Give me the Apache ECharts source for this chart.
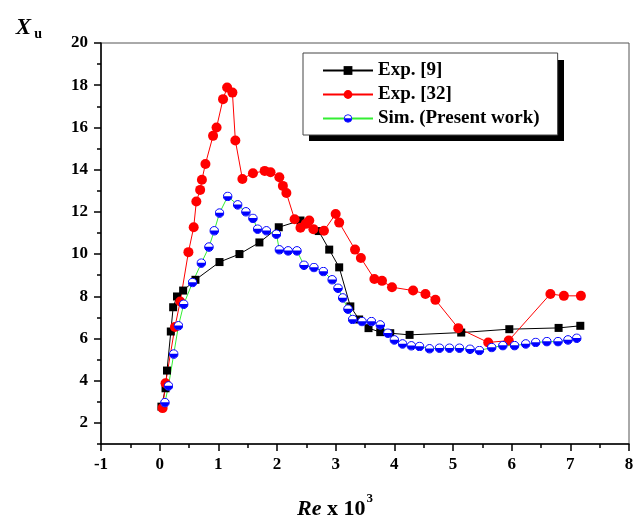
<!DOCTYPE html>
<html>
<head>
<meta charset="utf-8">
<script src="https://cdn.jsdelivr.net/npm/echarts@6/dist/echarts.min.js"></script>
<style>
  html, body { margin: 0; padding: 0; background: #fff; }
  #chart { width: 640px; height: 528px; }
</style>
</head>
<body>
<div id="chart"></div>
<script>
// Exp. [9]
const exp9X = [0.03, 0.10, 0.125, 0.19, 0.23, 0.295, 0.40, 0.61, 1.02, 1.36, 1.70, 2.03, 2.40, 2.71, 2.89, 3.06, 3.25, 3.40, 3.56, 3.76, 3.93, 4.26, 5.14, 5.96, 6.80, 7.17]
const exp9Y = [2.77, 3.64, 4.48, 6.33, 7.48, 7.99, 8.27, 8.78, 9.62, 10.0, 10.55, 11.27, 11.59, 11.09, 10.21, 9.37, 7.52, 6.90, 6.49, 6.30, 6.25, 6.17, 6.28, 6.44, 6.50, 6.60]

// Exp. [32]
const exp32X = [0.05, 0.10, 0.26, 0.35, 0.49, 0.58, 0.625, 0.69, 0.72, 0.78, 0.91, 0.97, 1.08, 1.15, 1.24, 1.29, 1.41, 1.59, 1.79, 1.89, 2.04, 2.10, 2.16, 2.30, 2.40, 2.49, 2.55, 2.62, 2.80, 3.00, 3.06, 3.33, 3.43, 3.66, 3.79, 3.96, 4.32, 4.53, 4.70, 5.09, 5.60, 5.95, 6.66, 6.89, 7.18]
const exp32Y = [2.70, 3.88, 6.54, 7.75, 10.09, 11.27, 12.49, 13.04, 13.52, 14.27, 15.60, 16.0, 17.34, 17.89, 17.65, 15.38, 13.56, 13.83, 13.94, 13.88, 13.64, 13.23, 12.89, 11.65, 11.25, 11.43, 11.59, 11.18, 11.10, 11.90, 11.49, 10.21, 9.81, 8.82, 8.73, 8.43, 8.27, 8.11, 7.83, 6.49, 5.81, 5.90, 8.11, 8.02, 8.02]

// Sim. (Present work)
const simX = [0.09, 0.15, 0.24, 0.32, 0.41, 0.56, 0.71, 0.84, 0.93, 1.02, 1.16, 1.33, 1.47, 1.59, 1.67, 1.82, 1.99, 2.04, 2.19, 2.34, 2.46, 2.63, 2.79, 2.94, 3.04, 3.12, 3.21, 3.29, 3.45, 3.61, 3.76, 3.89, 4.00, 4.14, 4.29, 4.43, 4.60, 4.77, 4.94, 5.11, 5.29, 5.45, 5.66, 5.85, 6.05, 6.24, 6.41, 6.60, 6.79, 6.96, 7.11]
const simY = [2.96, 3.75, 5.26, 6.60, 7.62, 8.65, 9.57, 10.33, 11.10, 11.94, 12.73, 12.33, 12.0, 11.69, 11.18, 11.10, 10.94, 10.20, 10.15, 10.15, 9.47, 9.36, 9.17, 8.78, 8.38, 7.92, 7.39, 6.90, 6.80, 6.80, 6.64, 6.25, 5.93, 5.74, 5.65, 5.62, 5.51, 5.54, 5.54, 5.54, 5.49, 5.43, 5.57, 5.66, 5.66, 5.74, 5.81, 5.85, 5.85, 5.93, 6.01]

const yMajorTicks = [2, 4, 6, 8, 10, 12, 14, 16, 18, 20]
const yMinorTicks = [1, 3, 5, 7, 9, 11, 13, 15, 17, 19]

const serif = '"Liberation Serif", "Times New Roman", serif'

function zip(xs, ys) {
    return xs.map((x, i) => [x, ys[i]])
}

// half filled circle (white top, blue bottom)
const halfSvg =
    "<svg xmlns='http://www.w3.org/2000/svg' width='20' height='20' viewBox='0 0 20 20'>" +
    "<circle cx='10' cy='10' r='8.6' fill='white' stroke='#0000ff' stroke-width='2'/>" +
    "<path d='M1.4 9.4 A8.6 8.6 0 0 0 18.6 9.4 Z' fill='#0000ff'/></svg>"
const halfSymbol = 'image://data:image/svg+xml;charset=utf-8,' + encodeURIComponent(halfSvg)

const chart = echarts.init(document.getElementById('chart'))

const option = {
    animation: false,
    textStyle: { fontFamily: serif },
    grid: {
        left: 101,
        right: 11,
        top: 43,
        bottom: 84,
        show: true,
        borderColor: '#555',
        borderWidth: 1
    },
    // drop shadow behind the legend box
    graphic: [
        {
            type: 'rect',
            left: 309,
            top: 60,
            z: 3,
            shape: { width: 255, height: 81 },
            style: { fill: '#000' }
        }
    ],
    legend: {
        orient: 'vertical',
        left: 303,
        top: 53,
        z: 5,
        padding: [8, 18, 7, 19],
        itemGap: 5,
        itemWidth: 50,
        itemHeight: 11,
        backgroundColor: '#fff',
        borderColor: '#444',
        borderWidth: 1,
        textStyle: {
            fontFamily: serif,
            fontWeight: 'bold',
            fontSize: 19,
            color: '#000'
        },
        data: ['Exp. [9]', 'Exp. [32]', 'Sim. (Present work)']
    },
    xAxis: {
        type: 'value',
        min: -1,
        max: 8,
        interval: 1,
        name: '{re|Re}{t| x 10}{s|3}',
        nameLocation: 'middle',
        nameGap: 48,
        nameTextStyle: {
            padding: [0, 60, 0, 0],
            rich: {
                re: { fontFamily: serif, fontSize: 22, fontStyle: 'italic', fontWeight: 'bold', color: '#000', lineHeight: 28, verticalAlign: 'bottom' },
                t: { fontFamily: serif, fontSize: 22, fontWeight: 'bold', color: '#000', lineHeight: 28, verticalAlign: 'bottom' },
                s: { fontFamily: serif, fontSize: 13, fontWeight: 'bold', color: '#000', lineHeight: 13, verticalAlign: 'top', padding: [0, 0, 0, 1] }
            }
        },
        axisLine: { onZero: false, lineStyle: { color: '#000', width: 1.5 } },
        axisTick: { length: 7, lineStyle: { color: '#000', width: 1.5 } },
        minorTick: { show: true, splitNumber: 2, length: 4, lineStyle: { color: '#000', width: 1.5 } },
        axisLabel: { margin: 12, color: '#000', fontFamily: serif, fontWeight: 'bold', fontSize: 17 },
        splitLine: { show: false }
    },
    yAxis: [
        {
            type: 'value',
            min: 1,
            max: 20,
            interval: 1,
            name: '{x|X}{u|u}',
            nameLocation: 'end',
            nameGap: 2,
            nameTextStyle: {
                align: 'right',
                verticalAlign: 'bottom',
                padding: [0, 59, 0, 0],
                rich: {
                    x: { fontFamily: serif, fontSize: 23, fontStyle: 'italic', fontWeight: 'bold', color: '#000', lineHeight: 24, verticalAlign: 'top' },
                    u: { fontFamily: serif, fontSize: 14, fontWeight: 'bold', color: '#000', lineHeight: 14, verticalAlign: 'bottom', padding: [18, 0, 0, 3] }
                }
            },
            axisLine: { show: true, onZero: false, lineStyle: { color: '#000', width: 1.5 } },
            axisTick: { show: true, length: 7, customValues: yMajorTicks, lineStyle: { color: '#000', width: 1.5 } },
            axisLabel: { margin: 13, customValues: yMajorTicks, color: '#000', fontFamily: serif, fontWeight: 'bold', fontSize: 17 },
            splitLine: { show: false }
        },
        {
            // odd minor ticks only
            type: 'value',
            position: 'left',
            offset: 0,
            min: 1,
            max: 20,
            interval: 1,
            axisLine: { show: false, onZero: false },
            axisTick: { show: true, length: 4, customValues: yMinorTicks, lineStyle: { color: '#000', width: 1.5 } },
            axisLabel: { show: false },
            splitLine: { show: false }
        }
    ],
    series: [
        {
            name: 'Exp. [9]',
            type: 'line',
            data: zip(exp9X, exp9Y),
            symbol: 'rect',
            symbolSize: 8,
            itemStyle: { color: '#000' },
            lineStyle: { color: '#000', width: 1 }
        },
        {
            name: 'Exp. [32]',
            type: 'line',
            data: zip(exp32X, exp32Y),
            symbol: 'circle',
            symbolSize: 10,
            itemStyle: { color: '#ff0000' },
            lineStyle: { color: '#ff0000', width: 1 }
        },
        {
            name: 'Sim. (Present work)',
            type: 'line',
            data: zip(simX, simY),
            symbol: halfSymbol,
            symbolSize: 10,
            itemStyle: { color: '#0000ff' },
            lineStyle: { color: '#33ee33', width: 1 }
        }
    ]
}

chart.setOption(option)
</script>
</body>
</html>
